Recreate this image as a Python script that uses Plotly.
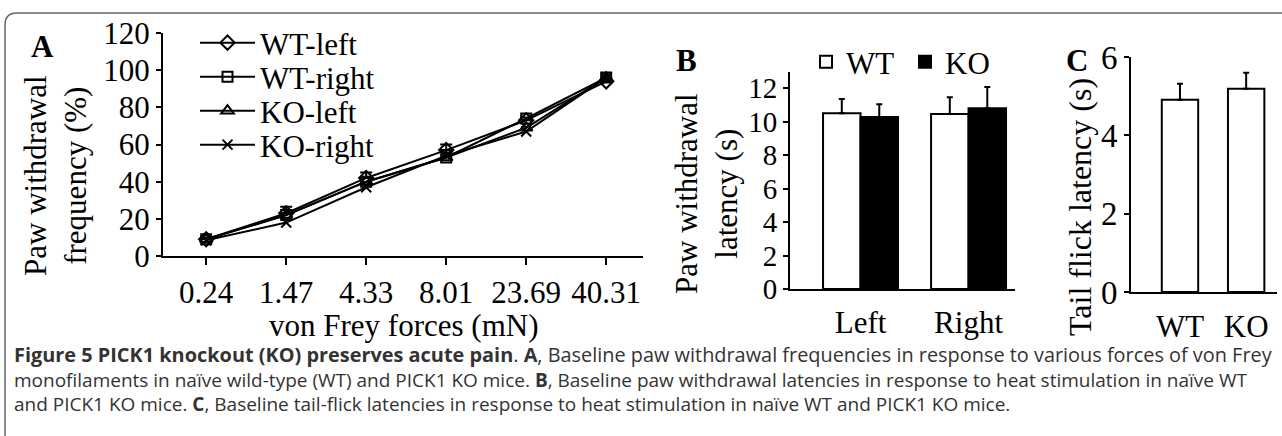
import plotly.graph_objects as go

W, H = 1282, 436

# ---------------- data ----------------
forces = ["0.24", "1.47", "4.33", "8.01", "23.69", "40.31"]
wt_left = [9, 23, 42, 57, 73, 94]
wt_right = [9, 22, 40, 53, 74, 96]
ko_left = [9, 22, 40, 53, 69, 96]
ko_right = [8.5, 18, 37, 54, 67, 96]
wt_left_err = [1, 3.5, 3, 3, 1.5, 1.5]

sides = ["Left", "Right"]
wt_latency = [10.5, 10.45]
ko_latency = [10.27, 10.8]
wt_latency_err = [0.85, 1.0]
ko_latency_err = [0.77, 1.26]

tail_groups = ["WT", "KO"]
tail_latency = [4.91, 5.19]
tail_err = [0.41, 0.41]

SERIF = "Liberation Serif"


def px(x):
    return x / W


def py(y):
    return 1 - y / H


fig = go.Figure()

# ---------------- panel A ----------------
series = [
    ("WT-left", wt_left, "diamond-open", 11, "legend"),
    ("WT-right", wt_right, "square-open", 10, "legend2"),
    ("KO-left", ko_left, "triangle-up-open", 11, "legend3"),
    ("KO-right", ko_right, "x-thin-open", 10, "legend4"),
]
for name, vals, sym, size, leg in series:
    kw = {}
    if name == "WT-left":
        kw["error_y"] = dict(type="data", array=wt_left_err, symmetric=False,
                             arrayminus=[0] * len(wt_left_err), color="black",
                             thickness=2, width=6)
    fig.add_trace(go.Scatter(
        x=forces, y=vals, name=name, mode="lines+markers",
        line=dict(color="black", width=2),
        marker=dict(symbol=sym, size=size, color="black",
                    line=dict(color="black", width=2)),
        xaxis="x", yaxis="y", legend=leg, **kw))

# ---------------- panel B ----------------
fig.add_trace(go.Bar(
    x=sides, y=wt_latency, name="WT", offset=-0.347, width=0.347,
    marker=dict(color="white", line=dict(color="black", width=2)),
    error_y=dict(type="data", array=wt_latency_err, symmetric=False,
                 arrayminus=[0, 0], color="black", thickness=2, width=3),
    xaxis="x2", yaxis="y2", legend="legend5"))
fig.add_trace(go.Bar(
    x=sides, y=ko_latency, name="KO", offset=0, width=0.347,
    marker=dict(color="black", line=dict(color="black", width=2)),
    error_y=dict(type="data", array=ko_latency_err, symmetric=False,
                 arrayminus=[0, 0], color="black", thickness=2, width=3),
    xaxis="x2", yaxis="y2", legend="legend6"))

# ---------------- panel C ----------------
fig.add_trace(go.Bar(
    x=tail_groups, y=tail_latency, name="Tail", width=0.55,
    marker=dict(color="white", line=dict(color="black", width=2)),
    error_y=dict(type="data", array=tail_err, symmetric=False,
                 arrayminus=[0, 0], color="black", thickness=2, width=3),
    xaxis="x3", yaxis="y3", showlegend=False))

axis_common = dict(showline=True, linecolor="black", linewidth=2,
                   showgrid=False, zeroline=False, color="black",
                   tickcolor="black", tickwidth=2, automargin=False)

leg_common = dict(font=dict(family=SERIF, size=31, color="black"),
                  bgcolor="rgba(0,0,0,0)", xanchor="left", yanchor="middle",
                  borderwidth=0)

fig.update_layout(
    width=W, height=H,
    margin=dict(l=0, r=0, t=0, b=0, pad=0, autoexpand=False),
    paper_bgcolor="white", plot_bgcolor="white",
    barmode="overlay",
    font=dict(family=SERIF, color="black"),
    xaxis=dict(domain=[px(163), px(643)], type="category",
               range=[-0.54, 5.46], anchor="y", ticks="outside", ticklen=7,
               tickfont=dict(family=SERIF, size=31), ticklabelstandoff=1,
               **axis_common),
    yaxis=dict(domain=[py(256), py(33)], range=[0, 120], dtick=20,
               anchor="x", ticks="outside", ticklen=5,
               tickfont=dict(family=SERIF, size=31), **axis_common),
    xaxis2=dict(domain=[px(790), px(1015)], type="category",
                range=[-0.653, 1.43], anchor="y2", ticks="",
                tickfont=dict(family=SERIF, size=31), ticklabelstandoff=5,
                **axis_common),
    yaxis2=dict(domain=[py(289), py(72)], range=[0, 12.96], dtick=2,
                anchor="x2", ticks="outside", ticklen=5,
                tickfont=dict(family=SERIF, size=29), **axis_common),
    xaxis3=dict(domain=[px(1131), px(1277)], type="category",
                range=[-0.74, 1.466], anchor="y3", ticks="",
                tickfont=dict(family=SERIF, size=31), ticklabelstandoff=6,
                **axis_common),
    yaxis3=dict(domain=[py(292), py(57)], range=[0, 6], dtick=2,
                anchor="x3", ticks="outside", ticklen=5,
                tickfont=dict(family=SERIF, size=33), **axis_common),
    legend=dict(x=px(195), y=py(43), itemwidth=55, **leg_common),
    legend2=dict(x=px(195), y=py(77), itemwidth=55, **leg_common),
    legend3=dict(x=px(195), y=py(111), itemwidth=55, **leg_common),
    legend4=dict(x=px(195), y=py(145), itemwidth=55, **leg_common),
    legend5=dict(x=px(806), y=py(62), **leg_common),
    legend6=dict(x=px(905), y=py(62), **leg_common),
)

ann = []
# panel letters
for letter, x, y in [("A", 42, 46), ("B", 686, 60), ("C", 1077, 60)]:
    ann.append(dict(text=f"<b>{letter}</b>", x=px(x), y=py(y), xref="paper",
                    yref="paper", showarrow=False, xanchor="center",
                    yanchor="middle", font=dict(family=SERIF, size=31)))
# axis titles
ann.append(dict(text="Paw withdrawal<br>frequency (%)", x=px(55), y=py(176),
                xref="paper", yref="paper", showarrow=False, textangle=-90,
                xanchor="center", yanchor="middle",
                font=dict(family=SERIF, size=31)))
ann.append(dict(text="von Frey forces (mN)", x=px(403), y=py(325),
                xref="paper", yref="paper", showarrow=False,
                xanchor="center", yanchor="middle",
                font=dict(family=SERIF, size=31)))
ann.append(dict(text="Paw withdrawal<br>latency (s)", x=px(706), y=py(194),
                xref="paper", yref="paper", showarrow=False, textangle=-90,
                xanchor="center", yanchor="middle",
                font=dict(family=SERIF, size=31)))
ann.append(dict(text="Tail flick latency (s)", x=px(1080), y=py(207),
                xref="paper", yref="paper", showarrow=False, textangle=-90,
                xanchor="center", yanchor="middle",
                font=dict(family=SERIF, size=32)))

# caption (one multi-line text block)
cap_lines = [
    "<span style='font-size:19.9px'><b>Figure 5 PICK1 knockout (KO) preserves acute pain</b>. <b>A</b>, Baseline paw withdrawal frequencies in response to various forces of von Frey</span>",
    "monofilaments in naïve wild-type (WT) and PICK1 KO mice. <b>B</b>, Baseline paw withdrawal latencies in response to heat stimulation in naïve WT",
    "and PICK1 KO mice. <b>C</b>, Baseline tail-flick latencies in response to heat stimulation in naïve WT and PICK1 KO mice.",
]
ann.append(dict(text="<br>".join(cap_lines), x=px(12), y=py(379), xref="paper",
                yref="paper", showarrow=False, xanchor="left",
                yanchor="middle", align="left",
                font=dict(family="Open Sans", size=19.0, color="#333333")))

fig.update_layout(annotations=ann)

# rounded frame
x0, y0, r = px(5), py(13), 12
path = (f"M {x0},{py(436)} L {x0},{py(13 + r)} "
        f"Q {x0},{y0} {px(5 + r)},{y0} L {px(1282)},{y0}")
fig.add_shape(type="path", path=path, xref="paper", yref="paper",
              line=dict(color="#666666", width=1.5))

fig.write_html("out.html", config={"displayModeBar": False},
               post_script="document.body.style.margin='0px';")
